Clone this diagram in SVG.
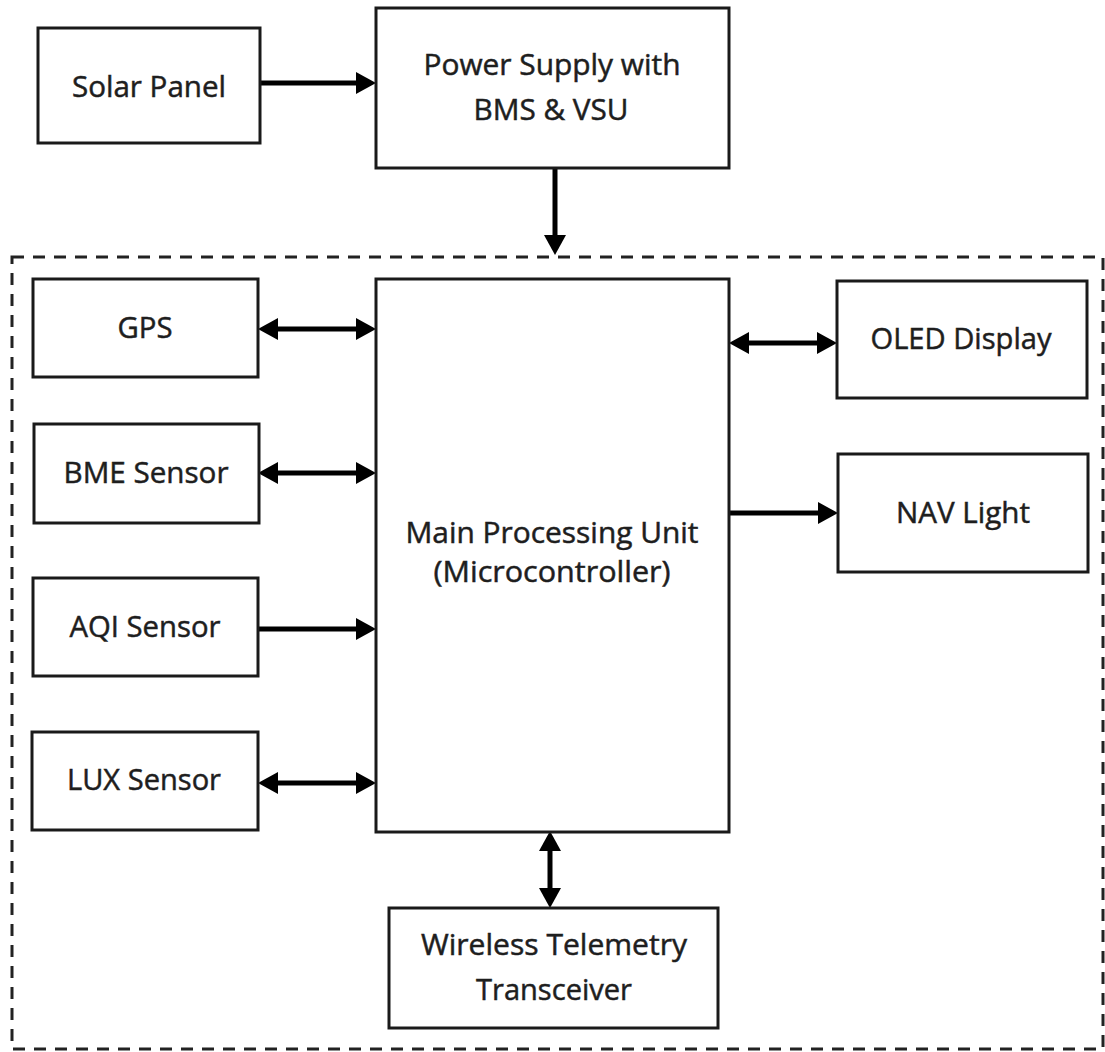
<svg xmlns="http://www.w3.org/2000/svg" width="1105" height="1052" viewBox="0 0 1105 1052">
<style>
.box{fill:#fff;stroke:#1a1a1a;stroke-width:3}
.lbl{font-family:"Open Sans","Noto Sans","Liberation Sans",sans-serif;font-size:30px;fill:#1e1e1e;stroke:#1e1e1e;stroke-width:0.5;text-anchor:middle}
.con{stroke:#000;stroke-width:5;fill:none}
</style>
<defs>
<marker id="ah" viewBox="0 0 20 22" refX="10" refY="11" markerWidth="20" markerHeight="22" markerUnits="userSpaceOnUse" orient="auto-start-reverse">
<path d="M0,0 L20,11 L0,22 z" fill="#000"/>
</marker>
</defs>
<rect width="1105" height="1052" fill="#fff"/>
<rect id="boundary" x="12" y="257" width="1091" height="792" fill="none" stroke="#222" stroke-width="3" stroke-dasharray="12 9"/>
<g id="connectors">
<line class="con" x1="260" y1="83" x2="366" y2="83" marker-end="url(#ah)"/>
<line class="con" x1="555" y1="168" x2="555" y2="245" marker-end="url(#ah)"/>
<line class="con" x1="268" y1="329" x2="366" y2="329" marker-start="url(#ah)" marker-end="url(#ah)"/>
<line class="con" x1="268" y1="473" x2="366" y2="473" marker-start="url(#ah)" marker-end="url(#ah)"/>
<line class="con" x1="258" y1="629" x2="366" y2="629" marker-end="url(#ah)"/>
<line class="con" x1="268" y1="783" x2="366" y2="783" marker-start="url(#ah)" marker-end="url(#ah)"/>
<line class="con" x1="739" y1="343" x2="827" y2="343" marker-start="url(#ah)" marker-end="url(#ah)"/>
<line class="con" x1="729" y1="513" x2="828" y2="513" marker-end="url(#ah)"/>
<line class="con" x1="550" y1="841" x2="550" y2="898" marker-start="url(#ah)" marker-end="url(#ah)"/>
</g>
<g id="solar"><rect class="box" x="38" y="28" width="222" height="115"/><text class="lbl" x="149" y="97" textLength="154" lengthAdjust="spacingAndGlyphs">Solar Panel</text></g>
<g id="power"><rect class="box" x="376" y="8" width="353" height="160"/><text class="lbl" x="552" y="75" textLength="257" lengthAdjust="spacingAndGlyphs">Power Supply with</text><text class="lbl" x="551" y="120" textLength="155" lengthAdjust="spacingAndGlyphs">BMS &amp; VSU</text></g>
<g id="mcu"><rect class="box" x="376" y="279" width="353" height="553"/><text class="lbl" x="552" y="543" textLength="293" lengthAdjust="spacingAndGlyphs">Main Processing Unit</text><text class="lbl" x="552" y="582" textLength="237" lengthAdjust="spacingAndGlyphs">(Microcontroller)</text></g>
<g id="gps"><rect class="box" x="33" y="279" width="225" height="98"/><text class="lbl" x="145" y="338" textLength="55" lengthAdjust="spacingAndGlyphs">GPS</text></g>
<g id="bme"><rect class="box" x="34" y="424" width="225" height="99"/><text class="lbl" x="146" y="483" textLength="165" lengthAdjust="spacingAndGlyphs">BME Sensor</text></g>
<g id="aqi"><rect class="box" x="33" y="578" width="225" height="98"/><text class="lbl" x="145" y="637" textLength="151" lengthAdjust="spacingAndGlyphs">AQI Sensor</text></g>
<g id="lux"><rect class="box" x="32" y="732" width="226" height="98"/><text class="lbl" x="144" y="790" textLength="154" lengthAdjust="spacingAndGlyphs">LUX Sensor</text></g>
<g id="oled"><rect class="box" x="837" y="281" width="250" height="117"/><text class="lbl" x="961" y="349" textLength="181" lengthAdjust="spacingAndGlyphs">OLED Display</text></g>
<g id="nav"><rect class="box" x="838" y="454" width="250" height="118"/><text class="lbl" x="963" y="523" textLength="134" lengthAdjust="spacingAndGlyphs">NAV Light</text></g>
<g id="wireless"><rect class="box" x="389" y="908" width="329" height="120"/><text class="lbl" x="554" y="955" textLength="266" lengthAdjust="spacingAndGlyphs">Wireless Telemetry</text><text class="lbl" x="554" y="1000" textLength="156" lengthAdjust="spacingAndGlyphs">Transceiver</text></g>
</svg>
